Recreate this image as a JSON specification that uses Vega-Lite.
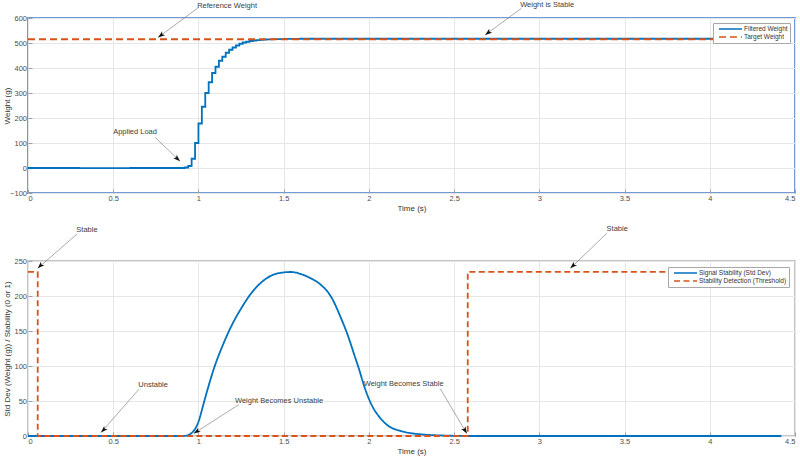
{
  "$schema": "https://vega.github.io/schema/vega-lite/v6.json",
  "background": "white",
  "padding": {"left": 2, "top": 0, "right": 0, "bottom": 0},
  "spacing": 68,
  "bounds": "flush",
  "config": {
    "font": "Liberation Sans",
    "axis": {
      "labelFont": "Liberation Sans",
      "labelFontSize": 7.5,
      "labelColor": "#4d4d4d",
      "labelOverlap": false,
      "titleFont": "Liberation Sans",
      "titleFontSize": 8,
      "titleFontWeight": "normal",
      "titleColor": "#333333",
      "gridColor": "#e6e6e6",
      "gridWidth": 1,
      "domain": false,
      "ticks": true,
      "tickColor": "#a0a0a0",
      "tickSize": -4,
      "labelPadding": 5.5,
      "titlePadding": 2
    },
    "axisY": {"titleX": -17},
    "legend": {
      "labelFont": "Liberation Sans",
      "labelFontSize": 6.5,
      "labelColor": "#333333"
    }
  },
  "datasets": {
    "weight": [
      {"t": 0, "v": 0, "series": "Filtered Weight"},
      {"t": 0.3, "v": -0.5, "series": "Filtered Weight"},
      {"t": 0.6, "v": 0, "series": "Filtered Weight"},
      {"t": 0.92, "v": 2, "series": "Filtered Weight"},
      {"t": 0.94, "v": 8, "series": "Filtered Weight"},
      {"t": 0.96, "v": 37, "series": "Filtered Weight"},
      {"t": 0.98, "v": 100, "series": "Filtered Weight"},
      {"t": 1.0, "v": 178, "series": "Filtered Weight"},
      {"t": 1.02, "v": 245, "series": "Filtered Weight"},
      {"t": 1.04, "v": 300, "series": "Filtered Weight"},
      {"t": 1.06, "v": 343, "series": "Filtered Weight"},
      {"t": 1.08, "v": 380, "series": "Filtered Weight"},
      {"t": 1.1, "v": 405, "series": "Filtered Weight"},
      {"t": 1.12, "v": 429, "series": "Filtered Weight"},
      {"t": 1.14, "v": 445, "series": "Filtered Weight"},
      {"t": 1.16, "v": 461, "series": "Filtered Weight"},
      {"t": 1.18, "v": 473, "series": "Filtered Weight"},
      {"t": 1.2, "v": 482, "series": "Filtered Weight"},
      {"t": 1.22, "v": 490, "series": "Filtered Weight"},
      {"t": 1.24, "v": 497, "series": "Filtered Weight"},
      {"t": 1.26, "v": 502, "series": "Filtered Weight"},
      {"t": 1.28, "v": 505, "series": "Filtered Weight"},
      {"t": 1.3, "v": 508, "series": "Filtered Weight"},
      {"t": 1.32, "v": 510, "series": "Filtered Weight"},
      {"t": 1.34, "v": 511.5, "series": "Filtered Weight"},
      {"t": 1.36, "v": 512.8, "series": "Filtered Weight"},
      {"t": 1.38, "v": 513.8, "series": "Filtered Weight"},
      {"t": 1.4, "v": 514.6, "series": "Filtered Weight"},
      {"t": 1.44, "v": 515.5, "series": "Filtered Weight"},
      {"t": 1.5, "v": 516.3, "series": "Filtered Weight"},
      {"t": 1.6, "v": 517, "series": "Filtered Weight"},
      {"t": 4.42, "v": 517, "series": "Filtered Weight"},
      {"t": 0, "v": 515, "series": "Target Weight"},
      {"t": 4.42, "v": 515, "series": "Target Weight"}
    ],
    "stab": [
      {"t": 0, "v": 0, "series": "Signal Stability (Std Dev)"},
      {"t": 0.5, "v": 0, "series": "Signal Stability (Std Dev)"},
      {"t": 0.9, "v": 0, "series": "Signal Stability (Std Dev)"},
      {"t": 0.93, "v": 0.6, "series": "Signal Stability (Std Dev)"},
      {"t": 0.95, "v": 2.5, "series": "Signal Stability (Std Dev)"},
      {"t": 0.966, "v": 5.7, "series": "Signal Stability (Std Dev)"},
      {"t": 0.98, "v": 10, "series": "Signal Stability (Std Dev)"},
      {"t": 0.996, "v": 17.7, "series": "Signal Stability (Std Dev)"},
      {"t": 1.01, "v": 28, "series": "Signal Stability (Std Dev)"},
      {"t": 1.025, "v": 41.5, "series": "Signal Stability (Std Dev)"},
      {"t": 1.055, "v": 67.8, "series": "Signal Stability (Std Dev)"},
      {"t": 1.094, "v": 98.7, "series": "Signal Stability (Std Dev)"},
      {"t": 1.143, "v": 129.8, "series": "Signal Stability (Std Dev)"},
      {"t": 1.191, "v": 156, "series": "Signal Stability (Std Dev)"},
      {"t": 1.25, "v": 182, "series": "Signal Stability (Std Dev)"},
      {"t": 1.309, "v": 203.7, "series": "Signal Stability (Std Dev)"},
      {"t": 1.367, "v": 219, "series": "Signal Stability (Std Dev)"},
      {"t": 1.426, "v": 229, "series": "Signal Stability (Std Dev)"},
      {"t": 1.485, "v": 233.2, "series": "Signal Stability (Std Dev)"},
      {"t": 1.543, "v": 234.3, "series": "Signal Stability (Std Dev)"},
      {"t": 1.602, "v": 231.3, "series": "Signal Stability (Std Dev)"},
      {"t": 1.661, "v": 225, "series": "Signal Stability (Std Dev)"},
      {"t": 1.72, "v": 215.6, "series": "Signal Stability (Std Dev)"},
      {"t": 1.778, "v": 199, "series": "Signal Stability (Std Dev)"},
      {"t": 1.837, "v": 168, "series": "Signal Stability (Std Dev)"},
      {"t": 1.876, "v": 144, "series": "Signal Stability (Std Dev)"},
      {"t": 1.915, "v": 115.5, "series": "Signal Stability (Std Dev)"},
      {"t": 1.944, "v": 94, "series": "Signal Stability (Std Dev)"},
      {"t": 1.974, "v": 70, "series": "Signal Stability (Std Dev)"},
      {"t": 2.013, "v": 46, "series": "Signal Stability (Std Dev)"},
      {"t": 2.062, "v": 27, "series": "Signal Stability (Std Dev)"},
      {"t": 2.111, "v": 15, "series": "Signal Stability (Std Dev)"},
      {"t": 2.189, "v": 7, "series": "Signal Stability (Std Dev)"},
      {"t": 2.306, "v": 2.4, "series": "Signal Stability (Std Dev)"},
      {"t": 2.463, "v": 0.5, "series": "Signal Stability (Std Dev)"},
      {"t": 2.6, "v": 0, "series": "Signal Stability (Std Dev)"},
      {"t": 4.42, "v": 0, "series": "Signal Stability (Std Dev)"},
      {"t": 0, "v": 234.4, "series": "Stability Detection (Threshold)"},
      {"t": 0.057, "v": 0, "series": "Stability Detection (Threshold)"},
      {"t": 2.58, "v": 234.4, "series": "Stability Detection (Threshold)"},
      {"t": 4.42, "v": 234.4, "series": "Stability Detection (Threshold)"}
    ],
    "notesTop": [
      {"id": "ref", "label": "Reference Weight", "tx": 1.168, "tv": 648, "x1": 0.998, "v1": 641, "x2": 0.763, "v2": 522},
      {"id": "load", "label": "Applied Load", "tx": 0.628, "tv": 143, "x1": 0.745, "v1": 123, "x2": 0.892, "v2": 27},
      {"id": "stable", "label": "Weight is Stable", "tx": 3.046, "tv": 652, "x1": 2.893, "v1": 638, "x2": 2.682, "v2": 532}
    ],
    "notesBottom": [
      {"id": "s1", "label": "Stable", "tx": 0.346, "tv": 294, "x1": 0.288, "v1": 288.6, "x2": 0.057, "v2": 239.5},
      {"id": "un", "label": "Unstable", "tx": 0.734, "tv": 73, "x1": 0.651, "v1": 66.8, "x2": 0.428, "v2": 4.9},
      {"id": "wbu", "label": "Weight Becomes Unstable", "tx": 1.473, "tv": 50.6, "x1": 1.237, "v1": 44.9, "x2": 0.972, "v2": 3.4},
      {"id": "wbs", "label": "Weight Becomes Stable", "tx": 2.204, "tv": 74, "x1": 2.418, "v1": 67.8, "x2": 2.575, "v2": 3.4},
      {"id": "s2", "label": "Stable", "tx": 3.457, "tv": 295.7, "x1": 3.396, "v1": 289.6, "x2": 3.182, "v2": 239.5}
    ]
  },
  "resolve": {"scale": {"x": "independent", "y": "independent", "color": "independent", "strokeDash": "independent"}},
  "vconcat": [
    {
      "width": 767,
      "height": 175,
      "view": {"stroke": "#6e9bd6", "strokeWidth": 2},
      "layer": [
        {
          "data": {"name": "weight"},
          "mark": {"type": "line", "interpolate": "step-after", "strokeWidth": 1.8},
          "encoding": {
            "x": {"field": "t", "type": "quantitative", "title": "Time (s)", "scale": {"domain": [0, 4.5], "nice": false}, "axis": {"values": [0, 0.5, 1, 1.5, 2, 2.5, 3, 3.5, 4, 4.5], "tickCount": 20, "format": "~g"}},
            "y": {"field": "v", "type": "quantitative", "title": "Weight (g)", "scale": {"domain": [-100, 600], "nice": false, "zero": false}, "axis": {"values": [-100, 0, 100, 200, 300, 400, 500, 600], "tickCount": 20}},
            "color": {"field": "series", "type": "nominal", "scale": {"domain": ["Filtered Weight", "Target Weight"], "range": ["#0072BD", "#D95319"]},
              "legend": {"title": null, "orient": "top-right", "offset": 5, "fillColor": "white", "strokeColor": "#a8a8a8", "padding": 2, "rowPadding": 0, "symbolType": "M0,0H8", "symbolSize": 33, "symbolStrokeWidth": 1.6, "labelOffset": 21}},
            "strokeDash": {"field": "series", "type": "nominal", "scale": {"domain": ["Filtered Weight", "Target Weight"], "range": [[1, 0], [7, 4]]},
              "legend": {"title": null, "orient": "top-right", "offset": 5, "fillColor": "white", "strokeColor": "#a8a8a8", "padding": 2, "rowPadding": 0, "symbolType": "M0,0H8", "symbolSize": 33, "symbolStrokeWidth": 1.6, "labelOffset": 21}}
          }
        },
        {
          "data": {"name": "notesTop"},
          "mark": {"type": "rule", "color": "#707070", "strokeWidth": 0.6},
          "encoding": {
            "x": {"field": "x1", "type": "quantitative", "title": "Time (s)", "scale": {"domain": [0, 4.5], "nice": false}},
            "y": {"field": "v1", "type": "quantitative", "title": "Weight (g)", "scale": {"domain": [-100, 600], "nice": false, "zero": false}},
            "x2": {"field": "x2"},
            "y2": {"field": "v2"}
          }
        },
        {
          "data": {"name": "notesTop"},
          "mark": {"type": "text", "fontSize": 7.5, "color": "#404040", "align": "center", "baseline": "middle"},
          "encoding": {
            "x": {"field": "tx", "type": "quantitative", "title": "Time (s)", "scale": {"domain": [0, 4.5], "nice": false}},
            "y": {"field": "tv", "type": "quantitative", "title": "Weight (g)", "scale": {"domain": [-100, 600], "nice": false, "zero": false}},
            "text": {"field": "label"}
          }
        },
        {
          "data": {"name": "notesTop"},
          "transform": [{"filter": "datum.id != 'load'"}],
          "mark": {"type": "point", "shape": "M0,0L0.7,2L0,1.5L-0.7,2Z", "filled": true, "color": "#111111", "opacity": 1, "size": 49, "angle": 233},
          "encoding": {
            "x": {"field": "x2", "type": "quantitative", "title": "Time (s)", "scale": {"domain": [0, 4.5], "nice": false}},
            "y": {"field": "v2", "type": "quantitative", "title": "Weight (g)", "scale": {"domain": [-100, 600], "nice": false, "zero": false}}
          }
        },
        {
          "data": {"name": "notesTop"},
          "transform": [{"filter": "datum.id == 'load'"}],
          "mark": {"type": "point", "shape": "M0,0L0.7,2L0,1.5L-0.7,2Z", "filled": true, "color": "#111111", "opacity": 1, "size": 49, "angle": 134},
          "encoding": {
            "x": {"field": "x2", "type": "quantitative", "title": "Time (s)", "scale": {"domain": [0, 4.5], "nice": false}},
            "y": {"field": "v2", "type": "quantitative", "title": "Weight (g)", "scale": {"domain": [-100, 600], "nice": false, "zero": false}}
          }
        }
      ]
    },
    {
      "width": 767,
      "height": 175,
      "view": {"stroke": "#c4c4c4", "strokeWidth": 2},
      "layer": [
        {
          "data": {"name": "stab"},
          "transform": [{"filter": "datum.series == 'Signal Stability (Std Dev)'"}],
          "mark": {"type": "line", "interpolate": "monotone", "strokeWidth": 1.8},
          "encoding": {
            "x": {"field": "t", "type": "quantitative", "title": "Time (s)", "scale": {"domain": [0, 4.5], "nice": false}, "axis": {"values": [0, 0.5, 1, 1.5, 2, 2.5, 3, 3.5, 4, 4.5], "tickCount": 20, "format": "~g"}},
            "y": {"field": "v", "type": "quantitative", "title": "Std Dev (Weight (g)) / Stability (0 or 1)", "scale": {"domain": [0, 250], "nice": false}, "axis": {"values": [0, 50, 100, 150, 200, 250], "tickCount": 20}},
            "color": {"field": "series", "type": "nominal", "scale": {"domain": ["Signal Stability (Std Dev)", "Stability Detection (Threshold)"], "range": ["#0072BD", "#D95319"]},
              "legend": {"title": null, "orient": "top-right", "offset": 6, "fillColor": "white", "strokeColor": "#a8a8a8", "padding": 2, "rowPadding": 0, "symbolType": "M0,0H8", "symbolSize": 33, "symbolStrokeWidth": 1.6, "labelOffset": 21}},
            "strokeDash": {"field": "series", "type": "nominal", "scale": {"domain": ["Signal Stability (Std Dev)", "Stability Detection (Threshold)"], "range": [[1, 0], [6, 3.5]]},
              "legend": {"title": null, "orient": "top-right", "offset": 6, "fillColor": "white", "strokeColor": "#a8a8a8", "padding": 2, "rowPadding": 0, "symbolType": "M0,0H8", "symbolSize": 33, "symbolStrokeWidth": 1.6, "labelOffset": 21}}
          }
        },
        {
          "data": {"name": "stab"},
          "transform": [{"filter": "datum.series == 'Stability Detection (Threshold)'"}],
          "mark": {"type": "line", "interpolate": "step-after", "strokeWidth": 1.8},
          "encoding": {
            "x": {"field": "t", "type": "quantitative", "title": "Time (s)", "scale": {"domain": [0, 4.5], "nice": false}},
            "y": {"field": "v", "type": "quantitative", "title": "Std Dev (Weight (g)) / Stability (0 or 1)", "scale": {"domain": [0, 250], "nice": false}},
            "color": {"field": "series", "type": "nominal", "scale": {"domain": ["Signal Stability (Std Dev)", "Stability Detection (Threshold)"], "range": ["#0072BD", "#D95319"]}},
            "strokeDash": {"field": "series", "type": "nominal", "scale": {"domain": ["Signal Stability (Std Dev)", "Stability Detection (Threshold)"], "range": [[1, 0], [6, 3.5]]}}
          }
        },
        {
          "data": {"name": "notesBottom"},
          "mark": {"type": "rule", "color": "#707070", "strokeWidth": 0.6},
          "encoding": {
            "x": {"field": "x1", "type": "quantitative", "title": "Time (s)", "scale": {"domain": [0, 4.5], "nice": false}},
            "y": {"field": "v1", "type": "quantitative", "title": "Std Dev (Weight (g)) / Stability (0 or 1)", "scale": {"domain": [0, 250], "nice": false}},
            "x2": {"field": "x2"},
            "y2": {"field": "v2"}
          }
        },
        {
          "data": {"name": "notesBottom"},
          "mark": {"type": "text", "fontSize": 7.5, "color": "#404040", "align": "center", "baseline": "middle"},
          "encoding": {
            "x": {"field": "tx", "type": "quantitative", "title": "Time (s)", "scale": {"domain": [0, 4.5], "nice": false}},
            "y": {"field": "tv", "type": "quantitative", "title": "Std Dev (Weight (g)) / Stability (0 or 1)", "scale": {"domain": [0, 250], "nice": false}},
            "text": {"field": "label"}
          }
        },
        {
          "data": {"name": "notesBottom"},
          "transform": [{"filter": "datum.id == 's1' || datum.id == 'un' || datum.id == 's2'"}],
          "mark": {"type": "point", "shape": "M0,0L0.7,2L0,1.5L-0.7,2Z", "filled": true, "color": "#111111", "opacity": 1, "size": 49, "angle": 225},
          "encoding": {
            "x": {"field": "x2", "type": "quantitative", "title": "Time (s)", "scale": {"domain": [0, 4.5], "nice": false}},
            "y": {"field": "v2", "type": "quantitative", "title": "Std Dev (Weight (g)) / Stability (0 or 1)", "scale": {"domain": [0, 250], "nice": false}}
          }
        },
        {
          "data": {"name": "notesBottom"},
          "transform": [{"filter": "datum.id == 'wbu'"}],
          "mark": {"type": "point", "shape": "M0,0L0.7,2L0,1.5L-0.7,2Z", "filled": true, "color": "#111111", "opacity": 1, "size": 49, "angle": 237},
          "encoding": {
            "x": {"field": "x2", "type": "quantitative", "title": "Time (s)", "scale": {"domain": [0, 4.5], "nice": false}},
            "y": {"field": "v2", "type": "quantitative", "title": "Std Dev (Weight (g)) / Stability (0 or 1)", "scale": {"domain": [0, 250], "nice": false}}
          }
        },
        {
          "data": {"name": "notesBottom"},
          "transform": [{"filter": "datum.id == 'wbs'"}],
          "mark": {"type": "point", "shape": "M0,0L0.7,2L0,1.5L-0.7,2Z", "filled": true, "color": "#111111", "opacity": 1, "size": 49, "angle": 149},
          "encoding": {
            "x": {"field": "x2", "type": "quantitative", "title": "Time (s)", "scale": {"domain": [0, 4.5], "nice": false}},
            "y": {"field": "v2", "type": "quantitative", "title": "Std Dev (Weight (g)) / Stability (0 or 1)", "scale": {"domain": [0, 250], "nice": false}}
          }
        }
      ]
    }
  ]
}
